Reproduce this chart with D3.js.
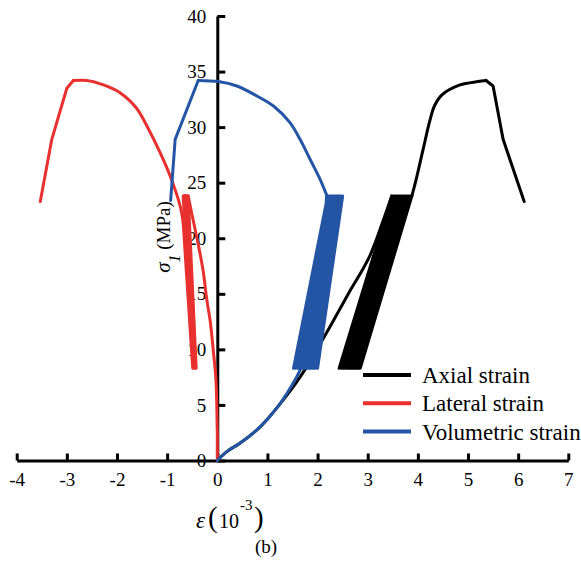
<!DOCTYPE html>
<html>
<head>
<meta charset="utf-8">
<script src="https://cdn.jsdelivr.net/npm/d3@7"></script>
<style>
  html, body { margin: 0; padding: 0; background: #fff; }
  svg { display: block; }
  text { font-family: "Liberation Serif", "Times New Roman", serif; fill: #000; }
</style>
</head>
<body>
<svg id="chart" width="581" height="573"></svg>
<script>
// Stress–strain data under cyclic loading: [strain (10^-3), σ1 (MPa)]
const cycleUpper = 23.8;
const cycleLower = 8.3;

// Axial strain
const axialInitial  = [[0,0],[0.19,0.8],[0.45,1.55],[0.85,3.0],[1.2,4.8],[1.65,7.5],[2.0,10.1],[2.25,12.05],[2.6,14.9],[3.04,18.4],[3.34,22.0],[3.48,23.8]];
const axialTops     = [3.48,3.52,3.55,3.58,3.61,3.64,3.67,3.70,3.73,3.76,3.79,3.82,3.85,3.88];
const axialBottoms  = [2.43,2.47,2.51,2.54,2.58,2.61,2.64,2.67,2.70,2.73,2.76,2.79,2.82,2.85];
const axialPrePeak  = [[3.88,23.8],[3.95,25.0],[4.1,27.9],[4.24,30.6],[4.33,31.9],[4.48,32.9],[4.84,33.8],[5.2,34.1],[5.36,34.2]];
const axialPostPeak = [[5.36,34.2],[5.5,33.7],[5.70,28.9],[6.12,23.3]];

// Lateral strain
const lateralInitial  = [[0,0],[0,2.5],[-0.01,5],[-0.03,7.5],[-0.08,9.9],[-0.14,12.5],[-0.21,14.5],[-0.28,17],[-0.36,19],[-0.47,21.4],[-0.54,22.9],[-0.58,23.8]];
const lateralTops     = [-0.58,-0.59,-0.60,-0.61,-0.62,-0.63,-0.635,-0.64,-0.65,-0.655,-0.66,-0.67,-0.675,-0.68];
const lateralBottoms  = [-0.42,-0.425,-0.43,-0.436,-0.442,-0.448,-0.453,-0.459,-0.465,-0.47,-0.475,-0.48,-0.485,-0.49];
const lateralPrePeak  = [[-0.68,21.4],[-0.74,22.9],[-0.94,25.6],[-1.14,27.7],[-1.38,29.9],[-1.61,31.7],[-1.94,33.1],[-2.27,33.8],[-2.6,34.2],[-2.87,34.2]];
const lateralPostPeak = [[-2.87,34.2],[-3.0,33.5],[-3.3,28.9],[-3.53,23.3]];

// Volumetric strain
const volumetricInitial  = [[0,0],[0.19,0.8],[0.45,1.55],[0.85,3.0],[1.2,4.8],[1.58,7.5],[1.84,10],[2.04,12.5],[2.16,15],[2.26,17.5],[2.3,20],[2.26,22.5],[2.2,23.8]];
const volumetricTops     = [2.20,2.22,2.25,2.27,2.30,2.32,2.34,2.37,2.39,2.41,2.43,2.45,2.47,2.50];
const volumetricBottoms  = [1.52,1.56,1.60,1.63,1.67,1.70,1.74,1.77,1.81,1.84,1.88,1.92,1.96,2.00];
const volumetricPrePeak  = [[2.18,23.9],[2.05,25.3],[1.84,27.2],[1.65,28.9],[1.45,30.4],[1.12,31.9],[0.79,32.8],[0.39,33.7],[0.02,34.1],[-0.38,34.2]];
const volumetricPostPeak = [[-0.38,34.2],[-0.84,28.9],[-0.93,23.4]];

const xTicks = [-4,-3,-2,-1,0,1,2,3,4,5,6,7];
const yTicks = [0,5,10,15,20,25,30,35,40];

const seriesNames  = ["Axial strain", "Lateral strain", "Volumetric strain"];
const seriesColors = ["#000000", "#e8302f", "#2455a4"];

// Unload/reload cycles: from the end of initial loading, down to the lower stress
// and back up, ending where the final loading branch starts
function cyclePath(initial, tops, bottoms, next) {
  const pts = [initial[initial.length - 1]];
  for (let i = 0; i < tops.length; i++) {
    pts.push([bottoms[i], cycleLower]);
    if (i + 1 < tops.length) pts.push([tops[i + 1], cycleUpper]);
  }
  pts.push(next[0]);
  return pts;
}

const series = [
  { initial: axialInitial, cycles: cyclePath(axialInitial, axialTops, axialBottoms, axialPrePeak), pre: axialPrePeak, post: axialPostPeak },
  { initial: lateralInitial, cycles: cyclePath(lateralInitial, lateralTops, lateralBottoms, lateralPrePeak), pre: lateralPrePeak, post: lateralPostPeak },
  { initial: volumetricInitial, cycles: cyclePath(volumetricInitial, volumetricTops, volumetricBottoms, volumetricPrePeak), pre: volumetricPrePeak, post: volumetricPostPeak }
];

const svg = d3.select("#chart");
const x = d3.scaleLinear().domain([-4, 7]).range([16.7, 568.3]);
const y = d3.scaleLinear().domain([0, 40]).range([460.5, 16]);

// Axes crossing at the origin
const fmt = d => String(d);
const xAxis = d3.axisBottom(x).tickValues(xTicks).tickFormat(fmt)
  .tickSizeInner(-7).tickSizeOuter(0).tickPadding(12);
const yAxis = d3.axisLeft(y).tickValues(yTicks).tickFormat(fmt)
  .tickSizeInner(-8).tickSizeOuter(0).tickPadding(11);

const gx = svg.append("g").attr("transform", `translate(0,${y(0)})`).call(xAxis);
const gy = svg.append("g").attr("transform", `translate(${x(0)},0)`).call(yAxis);

[gx, gy].forEach(g => {
  g.selectAll(".domain").attr("stroke", "#000").attr("stroke-width", 3);
  g.selectAll(".tick line").attr("stroke", "#000").attr("stroke-width", 3);
  g.selectAll(".tick text").style("font-family", '"Liberation Serif", serif').style("font-size", "19px").attr("fill", "#000");
});

// Curves: smooth loading branches, straight unload/reload cycles and softening branches
const smooth = d3.line().x(d => x(d[0])).y(d => y(d[1])).curve(d3.curveCatmullRom.alpha(0.5));
const straight = d3.line().x(d => x(d[0])).y(d => y(d[1]));
series.forEach((s, i) => {
  const g = svg.append("g")
    .attr("fill", "none")
    .attr("stroke", seriesColors[i])
    .attr("stroke-width", 3)
    .attr("stroke-linejoin", "round")
    .attr("stroke-linecap", "round");
  g.append("path").datum(s.initial).attr("d", smooth);
  g.append("path").datum(s.cycles).attr("d", straight);
  g.append("path").datum(s.pre).attr("d", smooth);
  g.append("path").datum(s.post).attr("d", straight);
});

// Legend
const legend = svg.append("g").attr("transform", "translate(363,375)");
seriesNames.forEach((name, i) => {
  const row = legend.append("g").attr("transform", `translate(0,${i * 28.3})`);
  row.append("line").attr("x1", 0).attr("x2", 48).attr("y1", 0).attr("y2", 0)
    .attr("stroke", seriesColors[i]).attr("stroke-width", 4);
  row.append("text").attr("x", 59).attr("y", 8).style("font-size", "23px").text(name);
});

// Axis titles
const xt = svg.append("g");
xt.append("text").attr("x", 196).attr("y", 528).style("font-size", "23px").style("font-style", "italic").text("ε");
xt.append("text").attr("x", 208).attr("y", 527).style("font-size", "29px").text("(");
xt.append("text").attr("x", 219).attr("y", 528).style("font-size", "20px").text("10");
xt.append("text").attr("x", 240).attr("y", 510).style("font-size", "15px").text("-3");
xt.append("text").attr("x", 254).attr("y", 527).style("font-size", "29px").text(")");

const yt = svg.append("text")
  .attr("transform", "translate(170,237) rotate(-90)")
  .attr("text-anchor", "middle");
yt.append("tspan").style("font-size", "21px").style("font-style", "italic").text("σ");
yt.append("tspan").style("font-size", "16px").style("font-style", "italic").attr("dy", 10).text("1");
yt.append("tspan").style("font-size", "19px").attr("dy", -10).text(" (MPa)");

svg.append("text").attr("x", 266).attr("y", 553).attr("text-anchor", "middle").style("font-size", "19px").text("(b)");
</script>
</body>
</html>
